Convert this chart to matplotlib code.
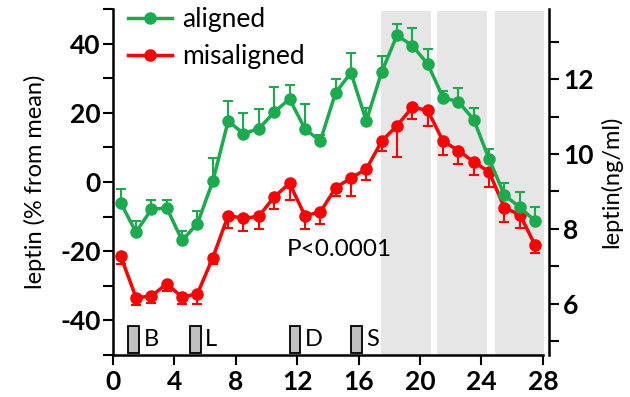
import matplotlib
matplotlib.use("Agg")
import matplotlib.pyplot as plt
from matplotlib.lines import Line2D
from matplotlib.ticker import MultipleLocator
import numpy as np

plt.rcParams['font.family'] = ['Lato', 'DejaVu Sans']
plt.rcParams['axes.unicode_minus'] = False

# hourly samples, plotted at the middle of each hour
hours = np.arange(0.5, 28, 1.0)

aligned = [-6.0, -14.5, -7.9, -7.5, -16.9, -12.0, 0.2,
           17.6, 14.0, 15.4, 20.2, 24.0, 15.4, 11.8,
           25.8, 31.6, 17.6, 31.8, 42.4, 39.4, 34.1,
           24.4, 23.2, 18.0, 6.6, -3.8, -7.3, -11.3]
aligned_sem = [4.0, 3.2, 2.6, 2.4, 2.7, 3.6, 6.8,
               5.7, 6.0, 5.7, 7.3, 3.9, 7.2, 1.9,
               4.0, 5.6, 3.8, 4.5, 3.4, 5.1, 4.2,
               2.0, 4.1, 3.4, 2.9, 3.6, 4.4, 4.0]

misaligned = [-21.4, -33.4, -33.0, -29.4, -33.3, -32.3, -21.9,
              -9.7, -10.5, -9.9, -4.3, -0.4, -9.7, -8.7,
              -1.7, 1.2, 3.7, 11.8, 16.3, 21.6, 20.7,
              11.8, 9.1, 5.8, 2.9, -7.5, -9.4, -18.3]
misaligned_sem = [2.4, 2.2, 1.9, 2.1, 2.1, 3.1, 1.9,
                  3.5, 3.6, 3.6, 3.6, 4.7, 3.8, 3.3,
                  2.4, 5.3, 3.1, 2.9, 9.0, 3.3, 4.4,
                  3.9, 3.8, 3.8, 4.3, 4.1, 3.8, 2.1]

# sleep periods (grey)
sleep_start = [17.45, 21.1, 24.87]
sleep_end = [20.7, 24.35, 28.1]

# meals: breakfast, lunch, dinner, snack
meal_labels = ['B', 'L', 'D', 'S']
meal_start = [1.0, 5.0, 11.5, 15.5]

mean_leptin = 9.25  # ng/ml, 0 % on the left axis
p_text = 'P<0.0001'

green = '#1aab4f'
red = '#ff0000'

fig = plt.figure(figsize=(6.3, 3.97), dpi=100)
ax = fig.add_axes([113 / 630, 1 - 355 / 397, 436 / 630, 346 / 397])

for s, e in zip(sleep_start, sleep_end):
    ax.axvspan(s, e, ymin=0, ymax=0.995, color='#e6e6e6', lw=0, zorder=0)

ax.bar(meal_start, 7.8, width=0.7, bottom=-49.5, align='edge',
       color='#c0c0c0', edgecolor='black', linewidth=1.3, zorder=2)
for x0, lab in zip(meal_start, meal_labels):
    ax.text(x0 + 1.0, -45.6, lab, fontsize=17, va='center', ha='left')

ax.errorbar(hours, misaligned, yerr=[misaligned_sem, np.zeros(28)],
            color=red, lw=2.5, marker='o', ms=8, elinewidth=1.5,
            capsize=3.5, capthick=1.5, zorder=3)
ax.errorbar(hours, aligned, yerr=[np.zeros(28), aligned_sem],
            color=green, lw=2.5, marker='o', ms=8, elinewidth=1.5,
            capsize=3.5, capthick=1.5, zorder=4)

ax.text(11.3, -19.5, p_text, fontsize=17.5, va='center', ha='left')

ax.set_xlim(0, 28.4)
ax.set_ylim(-50, 50)
ax.set_xticks(range(0, 29, 4))
ax.yaxis.set_minor_locator(MultipleLocator(10))
ax.set_yticks([-40, -20, 0, 20, 40])
ax.tick_params(axis='both', which='both', length=7, width=1.5,
               labelsize=19, pad=2)
ax.tick_params(axis='x', pad=4)
for t in ax.get_xticklabels() + ax.get_yticklabels():
    t.set_fontweight('bold')
ax.set_ylabel('leptin (% from mean)', fontsize=17, labelpad=10)

for side in ['top', 'right']:
    ax.spines[side].set_visible(False)
for side in ['left', 'bottom']:
    ax.spines[side].set_linewidth(1.8)
ax.spines['bottom'].set_bounds(0, 28)

legend_handles = [
    Line2D([], [], color=green, lw=2.5, marker='o', ms=8, label='aligned'),
    Line2D([], [], color=red, lw=2.5, marker='o', ms=8, label='misaligned'),
]
ax.legend(handles=legend_handles, loc='upper left', frameon=False,
          fontsize=19, handlelength=1.67, handletextpad=0.38,
          labelspacing=0.47, borderpad=0, borderaxespad=0,
          bbox_to_anchor=(0.034, 1.006))

ax2 = ax.twinx()
ax2.set_ylim(mean_leptin * 0.5, mean_leptin * 1.5)
ax2.yaxis.set_major_locator(MultipleLocator(2))
ax2.yaxis.set_minor_locator(MultipleLocator(1))
ax2.tick_params(axis='y', which='both', length=7, width=1.5,
                labelsize=19, pad=3)
for t in ax2.get_yticklabels():
    t.set_fontweight('bold')
for side in ['top', 'left', 'bottom']:
    ax2.spines[side].set_visible(False)
ax2.spines['right'].set_linewidth(1.8)
ax2.set_ylabel('leptin(ng/ml)', fontsize=17, labelpad=5)

fig.savefig('out.png', dpi=100)
